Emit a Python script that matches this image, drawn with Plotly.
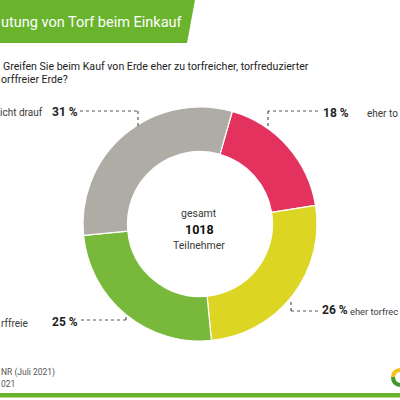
import plotly.graph_objects as go

# Survey answers (clockwise from the top-right slice)
answers = ["eher torfreiche", "eher torfreduzierte", "torffreie", "achte nicht drauf"]
shares = [18, 26, 25, 31]
colors = ["#e2325d", "#dcd523", "#78b83b", "#afaba5"]

total_label = "gesamt"
total_count = 1018
total_unit = "Teilnehmer"

header = "utung von Torf beim Einkauf"
question_lines = ["Greifen Sie beim Kauf von Erde eher zu torfreicher, torfreduzierter",
                  "orffreier Erde?"]
source_lines = ["NR (Juli 2021)", "021"]

W = H = 400
FONT = "Roboto, Arial, sans-serif"
GREEN = "#6ab42d"
TEXT = "#3a3a3a"


def px(x):
    return x / W


def py(y):
    return 1 - y / H


fig = go.Figure(go.Pie(
    labels=answers, values=shares, hole=0.62, sort=False,
    direction="clockwise", rotation=16,
    marker=dict(colors=colors, line=dict(color="white", width=1.2)),
    textinfo="none", hoverinfo="label+percent", showlegend=False,
    domain=dict(x=[px(83), px(317)], y=[py(341), py(107)]),
))

shapes = [
    # header banner
    dict(type="path", xref="paper", yref="paper",
         path=f"M 0,{py(0)} L {px(195)},{py(0)} L {px(187)},{py(43)} L 0,{py(43)} Z",
         fillcolor=GREEN, line=dict(width=0)),
    # bottom rule
    dict(type="rect", xref="paper", yref="paper", x0=0, x1=1, y0=py(397.5), y1=py(393),
         fillcolor=GREEN, line=dict(width=0)),
]

# dotted leader lines (pixel coordinates)
leaders = [
    [(80, 111), (138, 111), (138, 126)],
    [(318, 111), (268, 111), (268, 126)],
    [(318, 311), (291, 311), (291, 299)],
    [(81, 320), (126, 320), (126, 317)],
]
for pts in leaders:
    for (x0, y0), (x1, y1) in zip(pts[:-1], pts[1:]):
        shapes.append(dict(type="line", xref="paper", yref="paper",
                           x0=px(x0), y0=py(y0), x1=px(x1), y1=py(y1),
                           line=dict(color="#555555", width=1.2, dash="dot")))

# small logo swoosh
shapes += [
    dict(type="path", xref="paper", yref="paper",
         path=f"M {px(400)},{py(368)} Q {px(391)},{py(369)} {px(391)},{py(377)} L {px(395)},{py(377)} Q {px(396)},{py(372)} {px(400)},{py(372)} Z",
         fillcolor="#f2c318", line=dict(width=0)),
    dict(type="path", xref="paper", yref="paper",
         path=f"M {px(391)},{py(377)} Q {px(391)},{py(386)} {px(400)},{py(387)} L {px(400)},{py(383)} Q {px(395)},{py(382)} {px(395)},{py(377)} Z",
         fillcolor="#3f9a2f", line=dict(width=0)),
]


def note(x, y, text, size=11, color=TEXT, anchor="left"):
    return dict(xref="paper", yref="paper", x=px(x), y=py(y), text=text,
                showarrow=False, xanchor=anchor, yanchor="middle",
                font=dict(family=FONT, size=size, color=color))


annotations = [
    note(-1, 22, header, size=14.5, color="white"),
    note(1, 66, question_lines[0], size=10.6, color="#222222"),
    note(-1, 80, question_lines[1], size=10.6, color="#222222"),
    note(-2, 113, "icht drauf", size=10),
    note(50, 112, f"<b>{shares[3]} %</b>", size=12, color="#222222"),
    note(321, 113, f"<b>{shares[0]} %</b>", size=12, color="#222222"),
    note(400, 114, "eher to", size=10, anchor="right"),
    note(320, 310, f"<b>{shares[1]} %</b>", size=12, color="#222222"),
    note(400, 311, "eher torfrec", size=9.3, anchor="right"),
    note(-1, 323, "rffreie", size=10),
    note(50, 322, f"<b>{shares[2]} %</b>", size=12, color="#222222"),
    note(199, 213, total_label, size=10.5, anchor="center"),
    note(199, 229, f"<b>{total_count}</b>", size=12.5, color="#111111", anchor="center"),
    note(199, 245, total_unit, size=10.5, anchor="center"),
    note(-1, 372, source_lines[0], size=8.5, color="#555555"),
    note(-1, 384, source_lines[1], size=8.5, color="#555555"),
]

fig.update_layout(
    width=W, height=H, margin=dict(l=0, r=0, t=0, b=0),
    paper_bgcolor="white", plot_bgcolor="white",
    shapes=shapes, annotations=annotations,
)

# drop the browser's default page margin so the figure sits at the window corner
fig.write_html("out.html", config={"displayModeBar": False},
               post_script="document.body.style.margin='0';")
